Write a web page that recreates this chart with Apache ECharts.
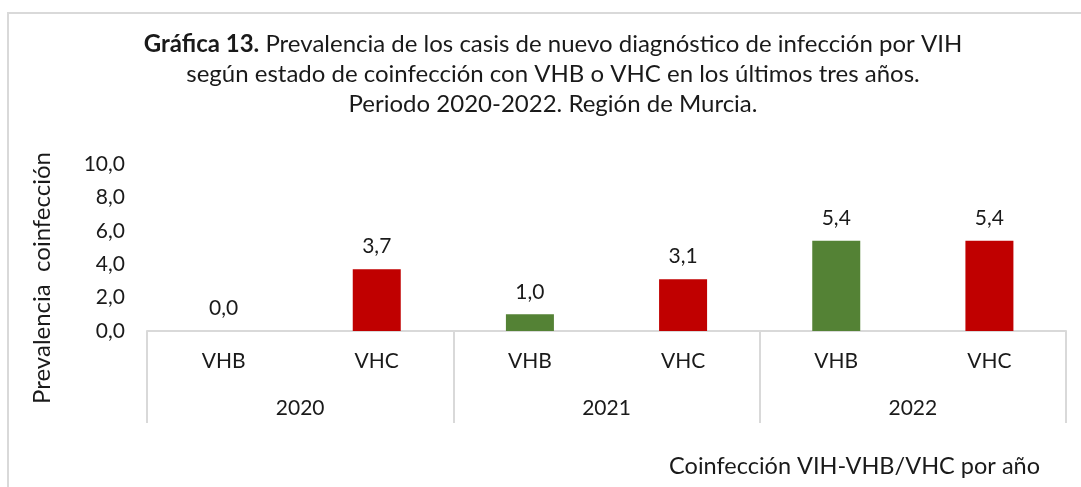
<!DOCTYPE html>
<html>
<head>
<meta charset="utf-8">
<script src="https://cdn.jsdelivr.net/npm/echarts@6/dist/echarts.min.js"></script>
<style>
	html, body { margin: 0; padding: 0; background: #fff; }
	#main { width: 1081px; height: 487px; }
</style>
</head>
<body>
<div id="main"></div>
<script>
	// datos
	var years = ['2020', '2021', '2022'];
	var types = ['VHB', 'VHC'];
	var vhb = [0.0, 1.0, 5.4];
	var vhc = [3.7, 3.1, 5.4];
	var yTicks = [0, 2, 4, 6, 8, 10];

	var colors = { VHB: '#548235', VHC: '#C00000' };
	var font = 'Lato, "Open Sans", sans-serif';
	var txt = '#1a1a1a';

	var cats = [];
	var barData = [];
	years.forEach(function (y, i) {
		cats.push(types[0], types[1]);
		barData.push({ value: vhb[i], itemStyle: { color: colors.VHB } });
		barData.push({ value: vhc[i], itemStyle: { color: colors.VHC } });
	});

	function fmt(v) {
		return Number(v).toFixed(1).replace('.', ',');
	}

	var myChart = echarts.init(document.getElementById('main'));

	var option = {
		animation: false,
		textStyle: { fontFamily: font },
		grid: { left: 147, right: 15, top: 164, bottom: 156, containLabel: false },
		graphic: [
			{
				type: 'polyline',
				shape: { points: [[1081, 13], [8, 13], [8, 487]] },
				style: { stroke: '#d9d9d9', lineWidth: 2, fill: null },
				silent: true
			},
			{
				type: 'text',
				x: 553, y: 29,
				style: {
					text: '{b|Gráfica 13.} Prevalencia de los casis de nuevo diagnóstico de infección por VIH\nsegún estado de coinfección con VHB o VHC en los últimos tres años.\nPeriodo 2020-2022. Región de Murcia.',
					align: 'center',
					font: '24px ' + font,
					fill: txt,
					lineHeight: 30,
					rich: {
						b: { fontWeight: 'bold', fontSize: 24, fontFamily: font, fill: txt, lineHeight: 30 }
					}
				}
			},
			{
				type: 'text',
				x: 42, y: 278,
				rotation: Math.PI / 2,
				style: {
					text: 'Prevalencia  coinfección',
					align: 'center',
					verticalAlign: 'middle',
					font: '24px ' + font,
					fill: txt
				}
			},
			{
				type: 'text',
				x: 1040, y: 466,
				style: {
					text: 'Coinfección VIH-VHB/VHC por año',
					align: 'right',
					verticalAlign: 'middle',
					font: '23.5px ' + font,
					fill: txt
				}
			}
		],
		xAxis: [
			{
				type: 'category',
				data: cats,
				position: 'bottom',
				axisLine: { show: true, lineStyle: { color: '#d9d9d9', width: 2 } },
				axisTick: { show: false },
				axisLabel: { color: txt, fontSize: 21, margin: 20, fontFamily: font }
			},
			{
				type: 'category',
				data: years,
				position: 'bottom',
				axisLine: { show: false },
				axisTick: { show: true, length: 92, lineStyle: { color: '#d9d9d9', width: 2 } },
				axisLabel: { color: txt, fontSize: 21, margin: 67, fontFamily: font }
			}
		],
		yAxis: {
			type: 'value',
			min: 0, max: 10, interval: 2,
			axisLine: { show: false },
			axisTick: { show: false },
			splitLine: { show: false },
			axisLabel: {
				color: txt, fontSize: 21, margin: 22, fontFamily: font,
				customValues: yTicks,
				formatter: fmt
			}
		},
		series: [
			{
				type: 'bar',
				xAxisIndex: 0,
				barWidth: 48,
				data: barData,
				label: {
					show: true,
					position: 'top',
					distance: 12,
					color: txt,
					fontSize: 21,
					fontFamily: font,
					formatter: function (p) { return fmt(p.value); }
				}
			}
		]
	};
	myChart.setOption(option);
	window.addEventListener('resize', function () {
		myChart.resize();
	});
</script>
</body>
</html>
